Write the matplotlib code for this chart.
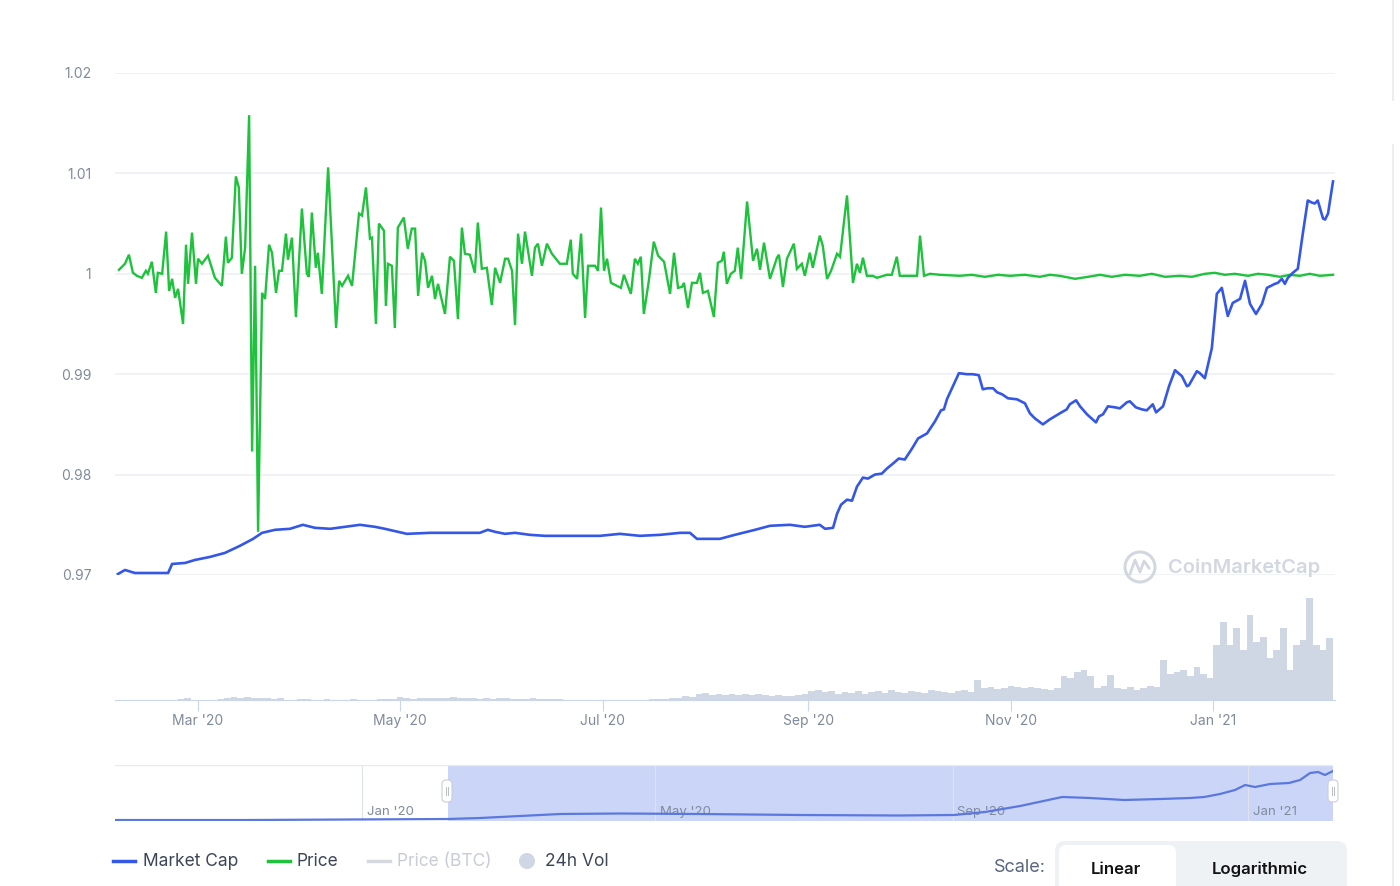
#!/usr/bin/env python3

import datetime
import matplotlib
matplotlib.use("Agg")
import matplotlib.pyplot as plt
import matplotlib.dates as mdates
from matplotlib.patches import FancyBboxPatch, Circle

plt.rcParams['font.family'] = ['Inter', 'DejaVu Sans']


# -------------------------------------------------
# DATA
# -------------------------------------------------

# days since 2020-02-06
price_day = [
    0.3, 2.1, 3.3, 4.5, 5.7, 7.2, 8.4, 9.0, 10.2, 11.4, 12.0, 13.3, 14.5, 15.4, 16.3, 17.2,
    18.1, 19.6, 20.5, 21.1, 22.3, 23.5, 24.1, 25.3, 27.1, 29.2, 31.3, 32.5, 33.1, 34.3, 35.5,
    36.4, 37.3, 38.3, 39.5, 40.4, 41.3, 42.2, 43.4, 44.3, 45.5, 46.4, 47.6, 48.5, 49.4, 50.6,
    51.2, 52.4, 53.6, 55.4, 56.9, 57.5, 58.4, 59.6, 60.2, 61.4, 63.3, 65.7, 66.6, 67.5, 69.3,
    70.5, 72.6, 73.5, 74.7, 75.9, 76.5, 77.7, 78.6, 80.1, 80.7, 81.3, 82.5, 83.4, 84.3, 86.1,
    87.3, 88.5, 89.5, 90.4, 91.6, 92.5, 93.4, 94.6, 95.5, 96.4, 98.5, 100.0, 101.2, 102.4,
    103.6, 104.5, 106.0, 107.5, 108.4, 109.6, 111.1, 112.6, 113.6, 115.1, 116.6, 117.5, 118.7,
    119.6, 120.5, 121.7, 122.6, 123.5, 124.7, 125.6, 126.5, 127.7, 129.2, 130.7, 133.1, 135.2,
    136.4, 137.0, 138.3, 139.5, 140.7, 141.6, 143.7, 144.6, 145.5, 146.4, 147.3, 148.5, 150.3,
    151.5, 152.4, 154.5, 155.7, 156.6, 157.5, 158.4, 159.9, 161.4, 162.7, 164.5, 166.3, 167.5,
    168.7, 169.9, 170.5, 171.7, 172.9, 174.4, 175.3, 176.2, 177.7, 179.5, 180.7, 181.9, 182.5,
    183.4, 184.6, 185.8, 186.7, 187.7, 189.5, 191.3, 192.5, 193.4, 194.6, 196.4, 198.5, 199.1,
    200.3, 201.5, 203.6, 204.5, 206.0, 206.9, 208.4, 209.3, 211.4, 212.3, 213.6, 214.8, 216.6,
    217.5, 219.6, 221.4, 222.6, 223.5, 224.4, 225.6, 227.4, 228.6, 231.6, 233.1, 234.6, 235.5,
    240.7, 241.6, 242.8, 244.6, 247.6, 253.6, 257.2, 261.1, 265.1, 268.7, 273.2, 277.7, 280.7,
    283.7, 288.3, 292.2, 295.8, 299.4, 303.3, 307.8, 311.4, 315.4, 319.9, 323.5, 327.4, 330.4,
    333.4, 336.4, 340.4, 343.4, 346.4, 350.0, 353.0, 356.0, 359.0, 362.0, 366.0,
]
price = [
    1.0004, 1.0010, 1.0019, 1.0001, 0.9998, 0.9996, 1.0003, 1.0000, 1.0012, 0.9981, 1.0001,
    1.0000, 1.0042, 0.9983, 0.9995, 0.9976, 0.9985, 0.9950, 1.0029, 0.9990, 1.0041, 0.9990,
    1.0015, 1.0010, 1.0018, 0.9996, 0.9988, 1.0037, 1.0011, 1.0016, 1.0097, 1.0086, 1.0000,
    1.0026, 1.0158, 0.9823, 1.0008, 0.9743, 0.9981, 0.9975, 1.0029, 1.0021, 0.9981, 1.0003,
    1.0003, 1.0040, 1.0014, 1.0036, 0.9957, 1.0065, 1.0000, 0.9997, 1.0061, 1.0006, 1.0021,
    0.9980, 1.0106, 0.9946, 0.9993, 0.9988, 0.9998, 0.9988, 1.0060, 1.0058, 1.0086, 1.0035,
    1.0036, 0.9950, 1.0050, 1.0043, 0.9968, 1.0010, 1.0008, 0.9946, 1.0046, 1.0056, 1.0025,
    1.0045, 1.0045, 0.9978, 1.0021, 1.0013, 0.9986, 0.9998, 0.9975, 0.9990, 0.9960, 1.0017,
    1.0013, 0.9955, 1.0046, 1.0020, 1.0019, 1.0001, 1.0051, 1.0005, 1.0006, 0.9969, 1.0006,
    0.9991, 1.0015, 1.0015, 1.0003, 0.9949, 1.0040, 1.0010, 1.0042, 1.0023, 0.9998, 1.0026,
    1.0030, 1.0008, 1.0030, 1.0020, 1.0010, 1.0010, 1.0034, 1.0000, 0.9995, 1.0040, 0.9956,
    1.0008, 1.0008, 1.0003, 1.0066, 1.0003, 1.0015, 0.9991, 0.9988, 0.9986, 0.9999, 0.9980,
    1.0015, 1.0010, 1.0017, 0.9960, 0.9993, 1.0032, 1.0018, 1.0012, 0.9980, 1.0021, 0.9986,
    0.9987, 0.9991, 0.9966, 0.9991, 0.9991, 1.0001, 0.9981, 0.9983, 0.9957, 1.0011, 1.0013,
    1.0022, 0.9990, 1.0000, 1.0003, 1.0026, 0.9995, 1.0072, 1.0013, 1.0025, 1.0004, 1.0031,
    0.9995, 1.0016, 1.0019, 0.9987, 1.0015, 1.0030, 1.0005, 1.0010, 0.9998, 1.0021, 1.0006,
    1.0038, 1.0028, 0.9995, 1.0003, 1.0020, 1.0017, 1.0078, 0.9991, 1.0010, 1.0001, 1.0016,
    0.9998, 0.9998, 0.9996, 0.9999, 0.9999, 1.0017, 0.9998, 0.9998, 1.0038, 0.9998, 1.0000,
    0.9999, 0.9998, 0.9999, 0.9997, 0.9999, 0.9998, 0.9999, 0.9997, 0.9999, 0.9998, 0.9995,
    0.9997, 0.9999, 0.9997, 0.9999, 0.9998, 1.0000, 0.9997, 0.9998, 0.9997, 1.0000, 1.0001,
    0.9999, 1.0000, 0.9998, 1.0000, 0.9999, 0.9997, 0.9999, 0.9998, 1.0000, 0.9998, 0.9999,
]

# market cap, drawn on its own (hidden) scale; values given in the left-axis units
mcap_day = [
    0.0, 2.1, 5.1, 9.6, 15.1, 16.3, 20.2, 23.2, 27.7, 32.2, 36.7, 40.7, 43.4, 47.3, 51.8,
    55.7, 59.3, 63.9, 68.4, 72.9, 77.4, 80.4, 87.0, 94.0, 109.0, 111.4, 113.6, 116.6, 119.6,
    124.1, 128.6, 145.2, 151.2, 157.2, 163.3, 169.3, 172.3, 174.4, 181.3, 185.8, 191.9, 196.4,
    202.4, 206.9, 211.4, 213.0, 215.4, 216.6, 217.8, 219.6, 221.1, 222.6, 224.4, 225.9, 228.0,
    230.1, 231.6, 233.1, 235.2, 237.0, 239.2, 241.0, 243.7, 246.1, 247.9, 248.8, 249.7, 251.5,
    253.3, 255.7, 257.5, 259.3, 260.5, 262.0, 263.6, 264.8, 266.3, 268.1, 270.8, 273.2, 274.7,
    276.2, 278.6, 280.7, 283.7, 285.8, 286.7, 288.6, 289.8, 291.9, 294.6, 295.5, 296.7, 298.2,
    300.3, 301.8, 303.9, 304.8, 306.6, 308.4, 309.9, 311.7, 312.7, 314.8, 316.6, 318.4, 320.5,
    322.0, 322.6, 325.0, 325.9, 327.4, 328.6, 329.5, 331.0, 332.5, 334.3, 335.8, 338.0, 339.5,
    341.0, 342.8, 344.6, 346.1, 348.5, 349.4, 350.6, 351.5, 352.4, 353.9, 355.4, 356.9, 358.4,
    359.6, 360.5, 361.4, 363.0, 363.6, 364.5, 366.0,
]
mcap = [
    0.9701, 0.9705, 0.9702, 0.9702, 0.9702, 0.9711, 0.9712, 0.9715, 0.9718, 0.9722, 0.9729,
    0.9736, 0.9742, 0.9745, 0.9746, 0.9750, 0.9747, 0.9746, 0.9748, 0.9750, 0.9748, 0.9746,
    0.9741, 0.9742, 0.9742, 0.9745, 0.9743, 0.9741, 0.9742, 0.9740, 0.9739, 0.9739, 0.9741,
    0.9739, 0.9740, 0.9742, 0.9742, 0.9736, 0.9736, 0.9740, 0.9745, 0.9749, 0.9750, 0.9748,
    0.9750, 0.9746, 0.9747, 0.9761, 0.9770, 0.9775, 0.9774, 0.9788, 0.9797, 0.9796, 0.9800,
    0.9801, 0.9806, 0.9810, 0.9816, 0.9815, 0.9826, 0.9836, 0.9841, 0.9853, 0.9864, 0.9865,
    0.9875, 0.9888, 0.9901, 0.9900, 0.9900, 0.9899, 0.9885, 0.9886, 0.9886, 0.9882, 0.9880,
    0.9876, 0.9875, 0.9871, 0.9861, 0.9856, 0.9850, 0.9855, 0.9861, 0.9865, 0.9870, 0.9874,
    0.9868, 0.9860, 0.9852, 0.9858, 0.9860, 0.9868, 0.9867, 0.9866, 0.9872, 0.9873, 0.9867,
    0.9865, 0.9864, 0.9870, 0.9862, 0.9868, 0.9888, 0.9904, 0.9898, 0.9888, 0.9889, 0.9903,
    0.9901, 0.9896, 0.9913, 0.9926, 0.9980, 0.9986, 0.9958, 0.9971, 0.9975, 0.9993, 0.9970,
    0.9960, 0.9970, 0.9986, 0.9990, 0.9991, 0.9995, 0.9990, 0.9996, 1.0001, 1.0005, 1.0040,
    1.0073, 1.0071, 1.0070, 1.0073, 1.0055, 1.0054, 1.0060, 1.0092,
]

# 24h volume, two-day bins starting 2020-02-06 (relative height)
vol_24h = [
    0.5, 0.5, 0.5, 0.5, 0.5, 0.5, 0.5, 0.5, 0.5, 0.8,
    2,
    0.5, 0.5, 0.5, 0.5, 0.8,
    2, 3, 2.5, 3, 2, 2.5, 2, 1.5, 2,
    0.5, 0.5, 0.8,
    1.5,
    0.5, 0.5, 0.6, 0.5, 0.5, 0.5, 0.6, 0.5, 0.5, 0.5,
    1, 1.5, 1, 3, 2, 1.5, 2, 2.5, 2, 2.5, 2, 3, 2, 2.5, 2, 1.5, 2, 1.5, 2.5, 2, 1.5, 1, 1.5,
    2, 1, 1.5, 1,
    0.8, 0.5, 0.5, 0.5, 0.5, 0.5, 0.5, 0.5, 0.5, 0.5, 0.5, 0.5, 0.5, 0.5, 0.8, 1, 1.5, 2,
    2.5, 4, 3,
    6, 7, 5, 6, 5, 6, 5.5, 6, 5, 6, 5, 4.5, 5, 4, 4.5, 5, 6,
    9, 10, 8, 9,
    6, 8, 7, 9, 6, 8, 9, 7, 10, 8, 7, 9, 8, 7, 10, 9, 8, 7, 9, 10,
    8, 20,
    12, 13, 11, 12, 14, 13, 12, 13, 12, 11, 10, 12,
    24, 22, 28, 30, 24, 12, 14, 25,
    12, 11, 13, 10, 12, 14, 13,
    40, 26, 28, 30, 24, 33, 26, 22,
    55, 78, 55, 72, 50, 85, 58, 63, 42, 50, 72, 30, 55, 60, 102, 55, 50, 62,
]
vol_day = list(range(0, 2 * len(vol_24h), 2))

# navigator overview (days since 2020-01-01, relative level)
nav_day = [-102.1, -46.0, 35.5, 48.8, 65.3, 81.8, 106.6, 139.7, 181.0, 222.0, 244.6, 257.4,
           271.9, 289.3, 300.8, 314.9, 329.8, 342.1, 348.0, 354.5, 360.7, 364.9, 369.0,
           375.2, 383.0, 387.6, 391.7, 395.0, 397.9, 401.2]
nav_level = [0.00, 0.00, 0.02, 0.04, 0.08, 0.12, 0.13, 0.12, 0.10, 0.09, 0.10, 0.16,
             0.28, 0.46, 0.44, 0.40, 0.42, 0.44, 0.46, 0.52, 0.60, 0.70, 0.66,
             0.72, 0.74, 0.80, 0.94, 0.96, 0.90, 0.98]

y_ticks = [0.97, 0.98, 0.99, 1.00, 1.01, 1.02]
y_labels = ["0.97", "0.98", "0.99", "1", "1.01", "1.02"]
x_ticks = ["2020-03-01", "2020-05-01", "2020-07-01", "2020-09-01", "2020-11-01", "2021-01-01"]
x_labels = ["Mar '20", "May '20", "Jul '20", "Sep '20", "Nov '20", "Jan '21"]
nav_ticks = ["2020-01-01", "2020-05-01", "2020-09-01", "2021-01-01"]
nav_labels = ["Jan '20", "May '20", "Sep '20", "Jan '21"]


# -------------------------------------------------
# STYLE
# -------------------------------------------------

W, H = 1400, 886
BLUE = "#3457e6"
GREEN = "#1ec23c"
GRID = "#eef0f4"
TICK = "#808a9d"
VOL = "#cfd6e4"

start = mdates.date2num(datetime.date(2020, 2, 6))
nav_origin = mdates.date2num(datetime.date(2020, 1, 1))


def box(x0, y0, x1, y1):
    # pixel box (top-left origin) -> figure fraction rect
    return [x0 / W, 1 - y1 / H, (x1 - x0) / W, (y1 - y0) / H]


fig = plt.figure(figsize=(W / 100, H / 100), dpi=100)
fig.patch.set_facecolor("white")

xlim = (start - 0.9, start + 366.6)


# -------------------------------------------------
# MAIN PANEL: price + market cap
# -------------------------------------------------

ax = fig.add_axes(box(115, 73, 1335, 575))
ax.set_xlim(*xlim)
ax.set_ylim(0.97, 1.02)
for s in ax.spines.values():
    s.set_visible(False)
ax.set_yticks(y_ticks)
ax.set_yticklabels(y_labels)
ax.tick_params(axis="y", length=0, pad=17, labelsize=10, labelcolor=TICK)
ax.tick_params(axis="x", bottom=False, labelbottom=False)
ax.grid(axis="y", color=GRID, linewidth=1.2)
ax.set_axisbelow(True)

ax.plot([start + d for d in price_day], price, color=GREEN, lw=1.7,
        solid_joinstyle="miter", zorder=3)

axm = ax.twinx()
axm.set_ylim(0.97, 1.02)
axm.set_xlim(*xlim)
axm.axis("off")
axm.plot([start + d for d in mcap_day], mcap, color=BLUE, lw=1.9, zorder=4)


# -------------------------------------------------
# VOLUME PANEL
# -------------------------------------------------

axv = fig.add_axes(box(115, 590, 1335, 700))
axv.set_xlim(*xlim)
axv.set_ylim(0, 110)
axv.patch.set_alpha(0)
for k in ["top", "right", "left"]:
    axv.spines[k].set_visible(False)
axv.spines["bottom"].set_color("#ccd6eb")
axv.bar([start + d for d in vol_day], vol_24h, width=2, align="edge",
        color=VOL, linewidth=0)
axv.set_yticks([])
axv.set_xticks([mdates.datestr2num(t) for t in x_ticks])
axv.set_xticklabels(x_labels)
axv.tick_params(axis="x", length=8, color="#ccd6eb", labelsize=10,
                labelcolor=TICK, pad=2)


# -------------------------------------------------
# NAVIGATOR
# -------------------------------------------------

axn = fig.add_axes(box(115, 765, 1333, 821))
axn.set_xlim(nav_origin - 102.1, nav_origin + 401.2)
axn.set_ylim(-0.02, 1.1)
for s in axn.spines.values():
    s.set_visible(False)
axn.axhline(1.1, color="#e6e9ee", lw=1)
axn.axvspan(nav_origin + 35.5, nav_origin + 401.2, color="#cbd5f8", lw=0, zorder=0)
for t, lab in zip(nav_ticks, nav_labels):
    xv = mdates.datestr2num(t)
    axn.axvline(xv, color="#dfe3ea", lw=0.8, zorder=1)
    axn.text(xv + 2, 0.16, lab, fontsize=9.5, color=TICK, va="center", ha="left", zorder=1)
axn.plot([nav_origin + d for d in nav_day], nav_level, color="#5a78de", lw=1.6, zorder=2)
axn.set_xticks([])
axn.set_yticks([])


# -------------------------------------------------
# OVERLAY: legend, buttons, watermark
# -------------------------------------------------

ov = fig.add_axes([0, 0, 1, 1], zorder=10)
ov.set_xlim(0, W)
ov.set_ylim(H, 0)
ov.axis("off")
ov.patch.set_alpha(0)

# navigator handles
for hx in (447, 1333):
    ov.add_patch(FancyBboxPatch((hx - 5, 780), 10, 22,
                                boxstyle="round,pad=0,rounding_size=4",
                                fc="white", ec="#c9ced6", lw=0.8))
    ov.plot([hx - 1, hx - 1], [787, 795], color="#b8bec8", lw=0.7)
    ov.plot([hx + 1, hx + 1], [787, 795], color="#b8bec8", lw=0.7)

# watermark
ov.add_patch(Circle((1140, 567), 15, fill=False, ec="#d3d8e0", lw=2.2))
ov.plot([1130, 1135, 1140, 1144, 1149], [574, 560, 572, 561, 568], color="#d3d8e0", lw=2)
ov.text(1168, 568, "CoinMarketCap", fontsize=14.5, color="#d3d8e0",
        fontweight="semibold", va="center", ha="left")

# legend
leg_y = 861
ov.plot([113, 135], [leg_y, leg_y], color=BLUE, lw=2.5)
ov.text(143, leg_y, "Market Cap", fontsize=12.5, color="#3d4657", va="center")
ov.plot([268, 290], [leg_y, leg_y], color=GREEN, lw=2.5)
ov.text(297, leg_y, "Price", fontsize=12.5, color="#3d4657", va="center")
ov.plot([368, 390], [leg_y, leg_y], color="#d5d9df", lw=2.5)
ov.text(397, leg_y, "Price (BTC)", fontsize=12.5, color="#c8ccd4", va="center")
ov.add_patch(Circle((527, leg_y), 8, color="#cfd6e4", lw=0))
ov.text(545, leg_y, "24h Vol", fontsize=12.5, color="#3d4657", va="center")

# scale buttons
ov.text(1046, 868, "Scale:", fontsize=13, color="#58667e", va="center", ha="right")
ov.add_patch(FancyBboxPatch((1055, 841), 292, 60,
                            boxstyle="round,pad=0,rounding_size=10",
                            fc="#eff2f5", ec="none"))
ov.add_patch(FancyBboxPatch((1059, 845), 117, 56,
                            boxstyle="round,pad=0,rounding_size=8",
                            fc="white", ec="none"))
ov.text(1116, 869, "Linear", fontsize=12, color="#111111", fontweight="semibold",
        va="center", ha="center")
ov.text(1260, 869, "Logarithmic", fontsize=12, color="#111111", fontweight="semibold",
        va="center", ha="center")

# right panel edge
ov.plot([1393, 1393], [0, 100], color="#e8ebef", lw=1.2)
ov.plot([1393, 1393], [145, H], color="#e8ebef", lw=1.2)

fig.savefig("out.png", dpi=100)
